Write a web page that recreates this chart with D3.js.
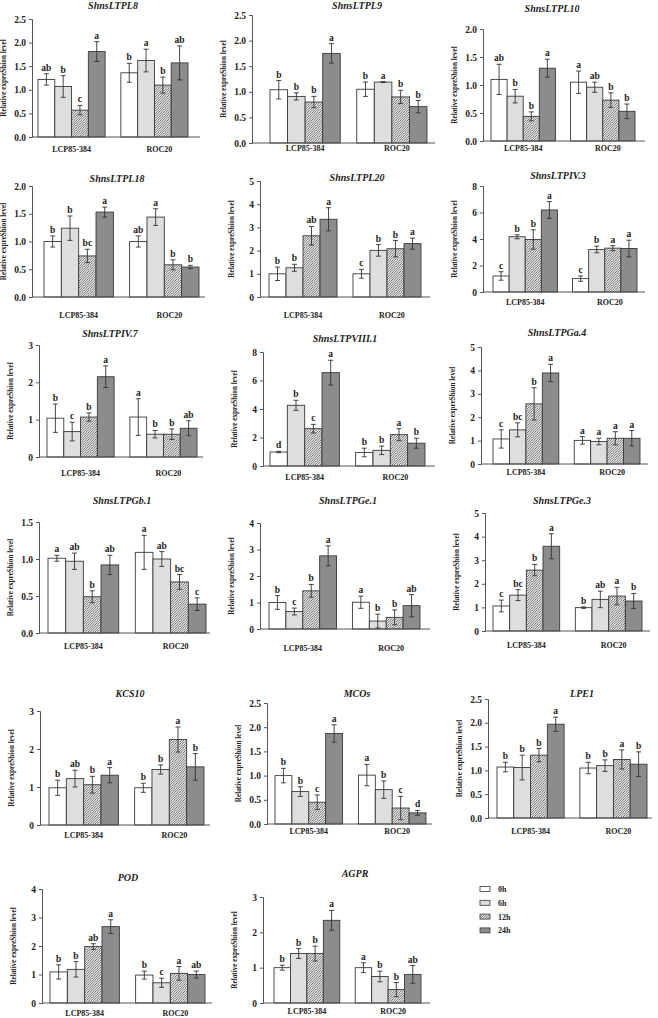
<!DOCTYPE html>
<html><head><meta charset="utf-8">
<script src="https://cdn.jsdelivr.net/npm/d3@7"></script>
<style>body{margin:0;background:#fff}svg{display:block}</style>
</head><body><svg id="c" width="658" height="1018"></svg>
<script>
const genes = ["ShnsLTPL8","ShnsLTPL9","ShnsLTPL10","ShnsLTPL18","ShnsLTPL20","ShnsLTPIV.3","ShnsLTPIV.7","ShnsLTPVIII.1","ShnsLTPGa.4","ShnsLTPGb.1","ShnsLTPGe.1","ShnsLTPGe.3","KCS10","MCOs","LPE1","POD","AGPR"];
const groups = ["LCP85-384","ROC20"];
const series = ["0h","6h","12h","24h"];
// means: [LCP 0h,6h,12h,24h, ROC 0h,6h,12h,24h]
const means = [
  [1.22,1.07,0.57,1.81, 1.36,1.62,1.10,1.57],
  [1.04,0.91,0.80,1.75, 1.05,1.19,0.90,0.71],
  [1.10,0.80,0.44,1.30, 1.05,0.96,0.73,0.53],
  [1.00,1.24,0.74,1.53, 1.00,1.44,0.58,0.54],
  [1.00,1.26,2.64,3.35, 1.00,2.01,2.08,2.30],
  [1.21,4.17,3.96,6.19, 1.01,3.21,3.31,3.28],
  [1.04,0.68,1.07,2.15, 1.07,0.61,0.61,0.77],
  [0.98,4.26,2.62,6.55, 0.95,1.10,2.20,1.60],
  [1.07,1.46,2.57,3.89, 1.01,0.96,1.10,1.10],
  [1.01,0.97,0.49,0.92, 1.09,1.00,0.69,0.39],
  [1.00,0.66,1.44,2.76, 1.01,0.30,0.44,0.88],
  [1.06,1.52,2.58,3.59, 0.99,1.34,1.48,1.27],
  [0.98,1.22,1.06,1.31, 0.98,1.46,2.25,1.53],
  [1.00,0.67,0.45,1.87, 1.01,0.71,0.33,0.23],
  [1.07,1.06,1.32,1.97, 1.05,1.10,1.23,1.13],
  [1.09,1.18,1.98,2.68, 0.98,0.71,1.04,1.00],
  [1.00,1.40,1.40,2.34, 1.00,0.75,0.38,0.81]
];
const errs = [
  [0.12,0.23,0.10,0.21, 0.20,0.24,0.17,0.36],
  [0.18,0.07,0.11,0.19, 0.14,0.01,0.13,0.12],
  [0.27,0.12,0.08,0.16, 0.20,0.09,0.13,0.13],
  [0.10,0.22,0.12,0.09, 0.10,0.15,0.09,0.03],
  [0.29,0.15,0.40,0.50, 0.19,0.25,0.35,0.24],
  [0.32,0.15,0.73,0.63, 0.20,0.25,0.19,0.63],
  [0.38,0.25,0.11,0.29, 0.49,0.10,0.14,0.20],
  [0.05,0.35,0.30,0.87, 0.30,0.30,0.42,0.35],
  [0.39,0.30,0.69,0.37, 0.16,0.14,0.28,0.33],
  [0.04,0.11,0.08,0.13, 0.23,0.10,0.10,0.085],
  [0.26,0.13,0.24,0.38, 0.23,0.26,0.28,0.42],
  [0.25,0.23,0.24,0.53, 0.03,0.35,0.37,0.32],
  [0.20,0.22,0.22,0.20, 0.12,0.12,0.33,0.35],
  [0.15,0.10,0.15,0.18, 0.22,0.18,0.24,0.05],
  [0.10,0.26,0.14,0.15, 0.12,0.12,0.20,0.26],
  [0.25,0.27,0.10,0.24, 0.14,0.16,0.24,0.12],
  [0.07,0.14,0.21,0.28, 0.14,0.15,0.20,0.25]
];
const letters = [
  ["ab","b","c","a","b","a","b","ab"],
  ["b","b","b","a","b","a","b","b"],
  ["ab","b","b","a","a","ab","b","b"],
  ["b","b","bc","a","ab","a","b","b"],
  ["b","b","ab","a","c","b","b","a"],
  ["c","b","b","a","c","b","a","a"],
  ["b","c","b","a","a","b","b","ab"],
  ["d","b","c","a","b","b","a","b"],
  ["c","bc","b","a","a","a","a","a"],
  ["a","ab","b","ab","a","ab","bc","c"],
  ["b","c","b","a","a","b","b","ab"],
  ["c","bc","b","a","b","ab","a","b"],
  ["b","ab","b","a","b","b","a","b"],
  ["b","b","c","a","a","b","c","d"],
  ["b","b","b","a","b","b","a","b"],
  ["b","b","ab","a","b","c","a","ab"],
  ["b","b","b","a","a","b","b","ab"]
];
const yMax  = [2.5,2.5,2.0,2.0,5,8,3,8,5,1.5,4,5,3,2.5,2.5,4,3];
const yStep = [0.5,0.5,0.5,0.5,1,2,1,2,1,0.5,1,1,1,0.5,0.5,1,1];
const yLabel = "Relative expreShion level";

// layout (pixel positions of each panel)
const layout = [
  {ax:32, top:19, base:137, bl:38, br:188, end:200, tx:113, ty:9, ly:152},
  {ax:252,top:15, base:143, bl:270,br:427, end:435, tx:357, ty:9, ly:151},
  {ax:483,top:29, base:141, bl:491,br:635, end:645, tx:552, ty:12, ly:151},
  {ax:32, top:186,base:297, bl:44, br:199, end:205, tx:117, ty:182, ly:318},
  {ax:260,top:181,base:297, bl:269,br:421, end:430, tx:357, ty:181, ly:318},
  {ax:483,top:186,base:292, bl:493,br:637, end:645, tx:558, ty:179, ly:305},
  {ax:39, top:345,base:457, bl:47, br:197, end:203, tx:110, ty:337, ly:476},
  {ax:263,top:352,base:466, bl:270,br:425, end:435, tx:345, ty:342, ly:480},
  {ax:481,top:347,base:464, bl:493,br:640, end:648, tx:557, ty:336, ly:475},
  {ax:39, top:522,base:633, bl:48, br:206, end:210, tx:122, ty:504, ly:649},
  {ax:260,top:523,base:629, bl:269,br:420, end:430, tx:348, ty:504, ly:651},
  {ax:485,top:513,base:631, bl:493,br:642, end:650, tx:562, ty:504, ly:648},
  {ax:40, top:711,base:825, bl:49, br:204, end:210, tx:130, ty:697, ly:838},
  {ax:267,top:703,base:824, bl:275,br:426, end:432, tx:357, ty:697, ly:834},
  {ax:488,top:699,base:818, bl:497,br:647, end:652, tx:582, ty:697, ly:834},
  {ax:42, top:889,base:1003,bl:50, br:205, end:212, tx:128, ty:881, ly:1016},
  {ax:263,top:897,base:1003,bl:274,br:421, end:430, tx:355, ty:877, ly:1014}
];

const FONT = "'Liberation Serif','Times New Roman',serif";
const fills = ["#ffffff","#dedede","url(#hatch)","#8c8c8c"];
const STROKE = "#3a3a3a";

const svg = d3.select("#c");
const defs = svg.append("defs");
const pat = defs.append("pattern").attr("id","hatch").attr("patternUnits","userSpaceOnUse")
  .attr("width",2.4).attr("height",2.4);
pat.append("rect").attr("width",2.4).attr("height",2.4).attr("fill","#f4f4f4");
pat.append("path").attr("d","M-0.6,0.6 l1.2,-1.2 M0,2.4 l2.4,-2.4 M1.8,3 l1.2,-1.2")
  .attr("stroke","#3c3c3c").attr("stroke-width",0.75);

genes.forEach((g, i) => {
  const L = layout[i];
  const p = svg.append("g");
  const y = d3.scaleLinear().domain([0, yMax[i]]).range([L.base, L.top]);
  const x0 = d3.scaleBand().domain(groups).range([L.bl, L.br]).paddingInner(0.19);
  const x1 = d3.scaleBand().domain(series).range([0, x0.bandwidth()]).padding(0);

  // title
  p.append("text").attr("x", L.tx).attr("y", L.ty).attr("text-anchor","middle")
    .attr("font-family",FONT).attr("font-weight","bold").attr("font-style","italic")
    .attr("font-size",10).attr("fill","#222").text(g);

  // y axis
  const ticks = d3.range(0, yMax[i] + 1e-9, yStep[i]);
  const fmt = yStep[i] < 1 ? d3.format(".1f") : d3.format("d");
  const ya = p.append("g").attr("transform",`translate(${L.ax},0)`)
    .call(d3.axisLeft(y).tickValues(ticks).tickFormat(fmt).tickSizeOuter(0).tickSize(3).tickPadding(3));
  ya.select(".domain").attr("stroke","#555").attr("stroke-width",1);
  ya.selectAll(".tick line").attr("stroke","#555");
  ya.selectAll("text").attr("font-family",FONT).attr("font-weight","bold")
    .attr("font-size",9.5).attr("fill","#222");

  // y label
  p.append("text").attr("transform",`translate(${L.ax-26},${(L.top+L.base)/2}) rotate(-90)`)
    .attr("text-anchor","middle").attr("font-family",FONT).attr("font-weight","bold")
    .attr("font-size",7.2).attr("fill","#222").text(yLabel);

  // bars
  groups.forEach((grp, gi) => {
    series.forEach((s, si) => {
      const k = gi*4 + si;
      const v = means[i][k], e = errs[i][k];
      const bx = x0(grp) + x1(s), bw = x1.bandwidth();
      p.append("rect").attr("x", bx).attr("y", y(v)).attr("width", bw)
        .attr("height", y(0) - y(v)).attr("fill", fills[si])
        .attr("stroke", STROKE).attr("stroke-width", 0.9);
      const cx = bx + bw/2;
      p.append("line").attr("x1",cx).attr("x2",cx).attr("y1",y(v+e)).attr("y2",y(Math.max(0,v-e)))
        .attr("stroke","#333").attr("stroke-width",0.9);
      [v+e, Math.max(0,v-e)].forEach(yy => {
        p.append("line").attr("x1",cx-2.5).attr("x2",cx+2.5).attr("y1",y(yy)).attr("y2",y(yy))
          .attr("stroke","#333").attr("stroke-width",0.9);
      });
      p.append("text").attr("x",cx).attr("y",y(v+e)-3).attr("text-anchor","middle")
        .attr("font-family",FONT).attr("font-weight","bold").attr("font-size",9.5)
        .attr("fill","#222").text(letters[i][k]);
    });
    // category label (ROC20 label sits a bit right of its group centre in the original)
    p.append("text").attr("x", x0(grp) + x0.bandwidth()/2 + (gi === 1 ? 5 : 0)).attr("y", L.ly)
      .attr("text-anchor","middle").attr("font-family",FONT).attr("font-weight","bold")
      .attr("font-size",8).attr("fill","#222").text(grp);
  });

  // baseline
  p.append("line").attr("x1",L.ax).attr("x2",L.end).attr("y1",L.base).attr("y2",L.base)
    .attr("stroke","#555").attr("stroke-width",1);
});

// legend
const leg = svg.append("g").attr("transform","translate(480,889)");
series.forEach((s, si) => {
  const r = leg.append("g").attr("transform",`translate(0,${si*13.8})`);
  r.append("rect").attr("x",0).attr("y",-2.5).attr("width",10).attr("height",5)
    .attr("fill",fills[si]).attr("stroke",STROKE).attr("stroke-width",0.8);
  r.append("text").attr("x",18).attr("y",3).attr("font-family",FONT).attr("font-weight","bold")
    .attr("font-size",8).attr("fill","#222").text(s);
});
</script></body></html>
